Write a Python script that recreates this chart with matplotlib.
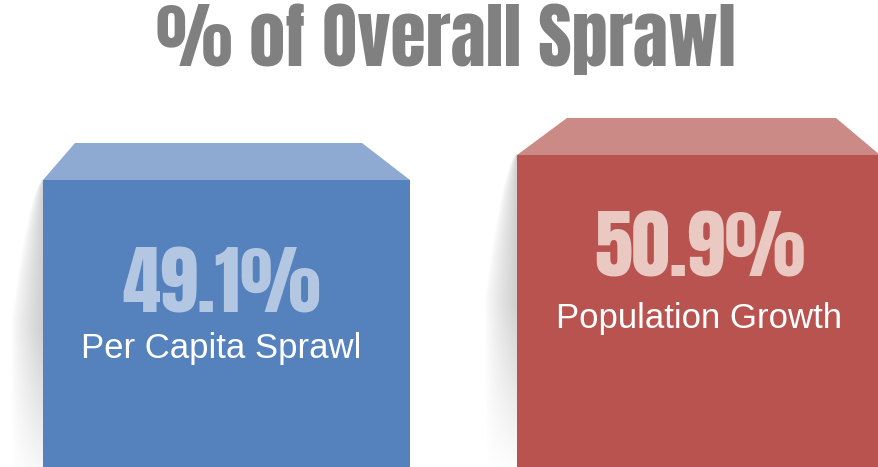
import numpy as np
import matplotlib.pyplot as plt
from matplotlib.patches import Polygon

# data
categories = ["Per Capita Sprawl", "Population Growth"]
shares = [49.1, 50.9]
share_labels = ["49.1%", "50.9%"]
title = "% of Overall Sprawl"

# styling
front_colors = ["#5581BD", "#B9534F"]
top_colors = ["#8FAAD2", "#CC8A87"]
number_colors = ["#B4C7E2", "#EBC9C3"]
centers = [226.5, 698.5]
widths = [367, 363]
back_insets = [(32, 48), (50, 44)]
text_shift = [-5, 1]
number_drop = [7.5, 6.7]
label_drop = [12.1, 11.8]

PX = 13.89          # pixels per percentage point
BASE = 862          # pixel row of the 0 % line (below the picture)

fig = plt.figure(figsize=(8.79, 4.67), dpi=100)
ax = fig.add_axes([0, 0, 1, 1])

bars = ax.bar(centers, shares, width=widths, color=front_colors, zorder=3)

depth = 37 / PX
y_low = (BASE - 467) / PX
for i, b in enumerate(bars):
    x0 = b.get_x()
    x1 = x0 + b.get_width()
    top = b.get_height()
    li, ri = back_insets[i]
    # top face of the box
    ax.add_patch(Polygon([(x0, top), (x0 + li, top + depth), (x1 - ri, top + depth), (x1, top)],
                         closed=True, facecolor=top_colors[i], edgecolor='none', zorder=3))

    # soft shadow to the left of the box
    sw = 38
    ny, nx = 300, 60
    ys = np.linspace(y_low, top, ny)
    xs = np.linspace(x0 - sw, x0, nx)
    X, Y = np.meshgrid(xs, ys)
    t = (top - Y) * PX                      # pixels below the top edge
    w = 32 * np.clip(t / 140, 0, 1) ** 0.6
    d = x0 - X
    a = np.clip(1 - d / np.maximum(w, 1e-3), 0, 1)
    fade = np.clip(1 - (t - 150) / 170, 0, 1)
    rgba = np.zeros((ny, nx, 4))
    rgba[..., :3] = 0.45
    rgba[..., 3] = 0.34 * a ** 0.8 * fade
    ax.imshow(rgba, extent=(x0 - sw, x0, y_low, top), origin='lower',
              aspect='auto', interpolation='bilinear', zorder=2)

    xc = centers[i] + text_shift[i]
    ax.text(xc, top - number_drop[i], share_labels[i], ha='center', va='center',
            fontsize=55, family=['Anton', 'DejaVu Sans'],
            color=number_colors[i], zorder=4)
    ax.text(xc, top - label_drop[i], categories[i], ha='center', va='center',
            fontsize=25, family=['Liberation Sans', 'DejaVu Sans'], color='white', zorder=4)

ax.set_xlim(0, 879)
ax.set_ylim((BASE - 467) / PX, BASE / PX)
ax.axis('off')

fig.text(0.507, 0.915, title, ha='center', va='center', fontsize=52,
         family=['Anton', 'DejaVu Sans'], color='#808080')

fig.savefig('out.png', dpi=100, facecolor='white')
